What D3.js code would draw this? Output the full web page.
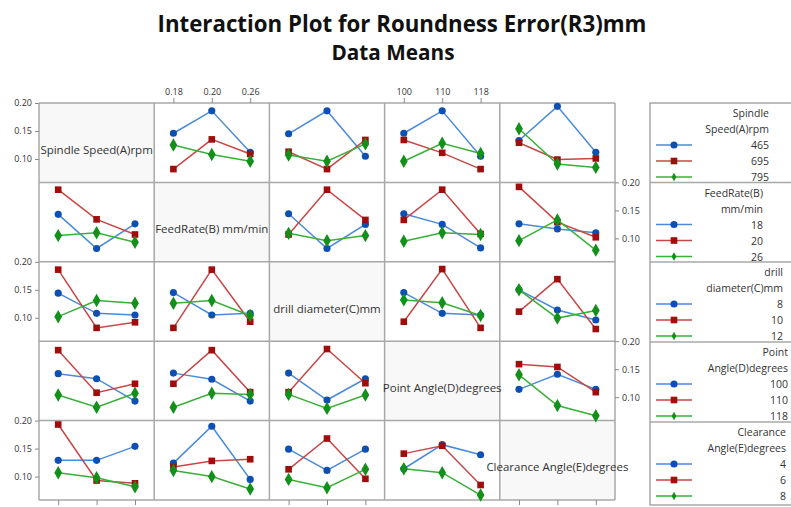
<!DOCTYPE html>
<html>
<head>
<meta charset="utf-8">
<script src="https://cdn.jsdelivr.net/npm/d3@7"></script>
<style>
  html, body { margin: 0; padding: 0; background: #fff; }
  svg { display: block; }
</style>
</head>
<body>
<svg id="chart" width="791" height="507"></svg>
<script>
// ---------------- DATA ----------------
const factors = ["Spindle Speed(A)rpm", "FeedRate(B) mm/min", "drill diameter(C)mm", "Point Angle(D)degrees", "Clearance Angle(E)degrees"];
const axisLevels = [["465", "695", "795"], ["0.18", "0.20", "0.26"], ["8", "10", "12"], ["100", "110", "118"], ["4", "6", "8"]];
const legendTitles = [["Spindle", "Speed(A)rpm"], ["FeedRate(B)", "mm/min"], ["drill", "diameter(C)mm"], ["Point", "Angle(D)degrees"], ["Clearance", "Angle(E)degrees"]];
const legendLevels = [["465", "695", "795"], ["18", "20", "26"], ["8", "10", "12"], ["100", "110", "118"], ["4", "6", "8"]];
const yTicks = [0.10, 0.15, 0.20];

// Means: row factor levels as series (blue, red, green), column factor levels on x
const meansA_B = [[0.146, 0.186, 0.112], [0.082, 0.135, 0.109], [0.125, 0.108, 0.096]];
const meansA_C = [[0.145, 0.186, 0.105], [0.113, 0.082, 0.134], [0.107, 0.096, 0.127]];
const meansA_D = [[0.146, 0.186, 0.105], [0.134, 0.111, 0.082], [0.096, 0.128, 0.110]];
const meansA_E = [[0.133, 0.194, 0.112], [0.129, 0.099, 0.101], [0.154, 0.091, 0.085]];

const meansB_A = [[0.143, 0.082, 0.126], [0.187, 0.134, 0.107], [0.105, 0.110, 0.093]];
const meansB_C = [[0.144, 0.082, 0.125], [0.107, 0.187, 0.133], [0.109, 0.096, 0.105]];
const meansB_D = [[0.144, 0.125, 0.083], [0.133, 0.187, 0.108], [0.095, 0.110, 0.107]];
const meansB_E = [[0.126, 0.117, 0.110], [0.192, 0.129, 0.102], [0.096, 0.133, 0.079]];

const meansC_A = [[0.144, 0.108, 0.105], [0.186, 0.082, 0.092], [0.102, 0.131, 0.126]];
const meansC_B = [[0.145, 0.105, 0.108], [0.082, 0.186, 0.093], [0.126, 0.131, 0.104]];
const meansC_D = [[0.145, 0.108, 0.105], [0.093, 0.187, 0.082], [0.132, 0.127, 0.104]];
const meansC_E = [[0.150, 0.114, 0.096], [0.111, 0.169, 0.080], [0.150, 0.0995, 0.113]];

const meansD_A = [[0.142, 0.133, 0.093], [0.184, 0.108, 0.124], [0.104, 0.082, 0.107]];
const meansD_B = [[0.143, 0.132, 0.093], [0.124, 0.184, 0.109], [0.082, 0.107, 0.105]];
const meansD_C = [[0.143, 0.095, 0.133], [0.109, 0.186, 0.125], [0.105, 0.080, 0.104]];
const meansD_E = [[0.114, 0.141, 0.114], [0.159, 0.154, 0.109], [0.140, 0.085, 0.067]];

const meansE_A = [[0.129, 0.129, 0.154], [0.193, 0.093, 0.088], [0.107, 0.098, 0.082]];
const meansE_B = [[0.124, 0.190, 0.095], [0.117, 0.128, 0.131], [0.111, 0.100, 0.078]];
const meansE_C = [[0.149, 0.111, 0.149], [0.113, 0.168, 0.096], [0.095, 0.080, 0.113]];
const meansE_D = [[0.114, 0.157, 0.139], [0.141, 0.155, 0.085], [0.114, 0.107, 0.067]];

const cellMeans = [
  [null, meansA_B, meansA_C, meansA_D, meansA_E],
  [meansB_A, null, meansB_C, meansB_D, meansB_E],
  [meansC_A, meansC_B, null, meansC_D, meansC_E],
  [meansD_A, meansD_B, meansD_C, null, meansD_E],
  [meansE_A, meansE_B, meansE_C, meansE_D, null]
];

// ---------------- STYLE / LAYOUT ----------------
const lineColors = ["#4a8ad8", "#c84646", "#38b038"];
const markColors = ["#0d4fb3", "#a00d0d", "#12901a"];
const symbols = [d3.symbolCircle, d3.symbolSquare, d3.symbolDiamond];
const symSizes = [40, 44, 52];

const gridL = 39, gridR = 615, gridT = 103, gridB = 500;
const n = 5;
const cw = (gridR - gridL) / n, ch = (gridB - gridT) / n;
const legL = 650, legR = 800;
const legTextRight = [769, 763, 783, 788, 786];
const legRowBounds = [103, 182.5, 262, 342, 422, 505];

const svg = d3.select("#chart");
const font = "'Open Sans', 'Noto Sans', sans-serif";

function fitText(sel, target) {
  const node = sel.node();
  const fs = parseFloat(sel.attr("font-size"));
  const w = node.getComputedTextLength();
  if (w > 0) sel.attr("font-size", (fs * target / w).toFixed(2));
}

// Titles
const t1 = svg.append("text").attr("x", 402).attr("y", 32).attr("text-anchor", "middle")
  .attr("font-family", font).attr("font-weight", "bold").attr("font-size", 24).attr("fill", "#111")
  .text("Interaction Plot for Roundness Error(R3)mm");
fitText(t1, 489);
const t2 = svg.append("text").attr("x", 393).attr("y", 60).attr("text-anchor", "middle")
  .attr("font-family", font).attr("font-weight", "bold").attr("font-size", 18).attr("fill", "#111")
  .text("Data Means");
fitText(t2, 123);

// Cells
const gridG = svg.append("g");
for (let r = 0; r < n; r++) {
  for (let c = 0; c < n; c++) {
    const x0 = gridL + c * cw, y0 = gridT + r * ch;
    if (r === c) {
      gridG.append("rect").attr("x", x0).attr("y", y0).attr("width", cw).attr("height", ch)
        .attr("fill", "#f8f8f8");
    }
  }
}
// grid lines
for (let i = 0; i <= n; i++) {
  gridG.append("line").attr("x1", gridL + i * cw).attr("x2", gridL + i * cw)
    .attr("y1", gridT).attr("y2", gridB).attr("stroke", "#a8a8a8").attr("stroke-width", 1.5);
  gridG.append("line").attr("y1", gridT + i * ch).attr("y2", gridT + i * ch)
    .attr("x1", gridL).attr("x2", gridR).attr("stroke", "#a8a8a8").attr("stroke-width", 1.5);
}

// diagonal labels
const diagSize = 11;
const diagLabels = [];
for (let i = 0; i < n; i++) {
  const t = svg.append("text").attr("x", gridL + i * cw + cw / 2).attr("y", gridT + i * ch + ch / 2 + 11)
    .attr("text-anchor", "middle").attr("font-family", font).attr("font-size", diagSize)
    .attr("fill", "#333").text(factors[i]);
  diagLabels.push(t);
}
{
  const w = diagLabels[4].node().getComputedTextLength();
  const fs = diagSize * 142 / w;
  diagLabels.forEach(t => t.attr("font-size", fs.toFixed(2)));
}

// scales per column/row
function xScale(c) {
  return d3.scalePoint().domain(axisLevels[c]).range([gridL + c * cw, gridL + (c + 1) * cw]).padding(0.5);
}
function yScale(r) {
  const top = gridT + r * ch, bot = top + ch;
  const ymin = 0.20 - (ch / 28) * 0.05;
  return d3.scaleLinear().domain([ymin, 0.20]).range([bot, top]);
}

// axes
function styleAxis(g) {
  g.select(".domain").remove();
  g.selectAll(".tick line").attr("stroke", "#888");
  g.selectAll(".tick text").attr("font-family", font).attr("font-size", 9).attr("fill", "#333");
}
for (let r = 0; r < n; r++) {
  const ys = yScale(r);
  if (r % 2 === 0) {
    svg.append("g").attr("transform", `translate(${gridL},0)`)
      .call(d3.axisLeft(ys).tickValues(yTicks).tickFormat(d3.format(".2f")).tickSize(4).tickPadding(3))
      .call(styleAxis);
  } else {
    svg.append("g").attr("transform", `translate(${gridR},0)`)
      .call(d3.axisRight(ys).tickValues(yTicks).tickFormat(d3.format(".2f")).tickSize(4).tickPadding(3))
      .call(styleAxis);
  }
}
for (let c = 0; c < n; c++) {
  const xs = xScale(c);
  if (c % 2 === 1) {
    svg.append("g").attr("transform", `translate(0,${gridT})`)
      .call(d3.axisTop(xs).tickSize(5).tickPadding(3)).call(styleAxis);
  } else {
    svg.append("g").attr("transform", `translate(0,${gridB})`)
      .call(d3.axisBottom(xs).tickSize(5).tickPadding(3)).call(styleAxis);
  }
}

// data lines & markers
const plotG = svg.append("g");
for (let r = 0; r < n; r++) {
  for (let c = 0; c < n; c++) {
    const m = cellMeans[r][c];
    if (!m) continue;
    const xs = xScale(c), ys = yScale(r);
    const line = d3.line().x((d, i) => xs(axisLevels[c][i])).y(d => ys(d));
    m.forEach((series, s) => {
      plotG.append("path").attr("d", line(series)).attr("fill", "none")
        .attr("stroke", lineColors[s]).attr("stroke-width", 1.5);
      plotG.selectAll(null).data(series).enter().append("path")
        .attr("transform", (d, i) => `translate(${xs(axisLevels[c][i])},${ys(d)})`)
        .attr("d", d3.symbol().type(symbols[s]).size(symSizes[s]))
        .attr("fill", markColors[s]);
    });
  }
}

// legends
const legG = svg.append("g");
legG.append("rect").attr("x", legL).attr("y", legRowBounds[0]).attr("width", legR - legL)
  .attr("height", legRowBounds[5] - legRowBounds[0]).attr("fill", "none").attr("stroke", "#a8a8a8").attr("stroke-width", 1.5);
for (let i = 1; i < 5; i++) {
  legG.append("line").attr("x1", legL).attr("x2", legR).attr("y1", legRowBounds[i]).attr("y2", legRowBounds[i])
    .attr("stroke", "#a8a8a8").attr("stroke-width", 1.5);
}
for (let k = 0; k < n; k++) {
  const top = legRowBounds[k];
  const rows = legendTitles[k].concat(legendLevels[k]);
  rows.forEach((txt, j) => {
    const cy = top + 10 + j * 16;
    legG.append("text").attr("x", legTextRight[k]).attr("y", cy + 4).attr("text-anchor", "end")
      .attr("font-family", font).attr("font-size", 10.5).attr("fill", "#333").text(txt);
    if (j >= 2) {
      const s = j - 2;
      legG.append("line").attr("x1", 656).attr("x2", 692).attr("y1", cy).attr("y2", cy)
        .attr("stroke", lineColors[s]).attr("stroke-width", 1.5);
      legG.append("path").attr("transform", `translate(674,${cy})`)
        .attr("d", d3.symbol().type(symbols[s]).size(s === 2 ? 20 : symSizes[s]))
        .attr("fill", markColors[s]);
    }
  });
}
</script>
</body>
</html>
